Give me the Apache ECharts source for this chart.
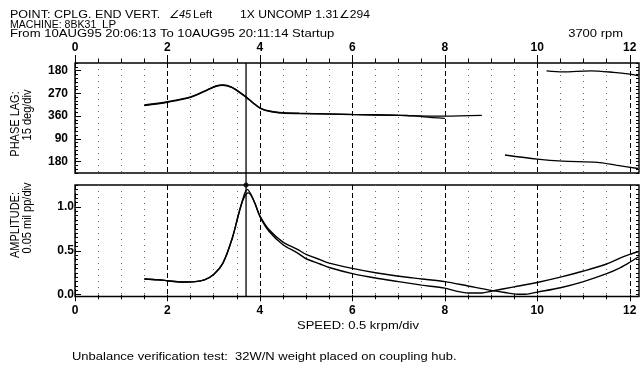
<!DOCTYPE html>
<html>
<head>
<meta charset="utf-8">
<script src="https://cdn.jsdelivr.net/npm/echarts@6/dist/echarts.min.js"></script>
<style>
  html, body { margin: 0; padding: 0; background: #fff; }
  #chart { width: 641px; height: 373px; }
</style>
</head>
<body>
<div id="chart"></div>
<script>
// ---------------- data ----------------
const speedTickValues = [0, 2, 4, 6, 8, 10, 12];
const speedTickLabels = ['0', '2', '4', '6', '8', '10', '12'];
const phaseTickValues = [180, 270, 360, 450, 540];
const phaseTickLabels = ['180', '270', '360', '90', '180'];
const ampTickValues = [0, 0.5, 1.0];
const ampTickLabels = ['0.0', '0.5', '1.0'];

const cursorSpeed = 3.7; // krpm

// Phase lag, trace A (null = gap)
const phaseSpeedA = [1.5, 2.0, 2.5, 2.85, 3.05, 3.2, 3.4, 3.55, 3.7, 3.85, 4.0, 4.2, 4.5, 4.85, 5.5, 6.0, 6.95, 7.4, 8.0, 8.8, null, 10.2, 10.55, 11.15, 11.65, 12.0, 12.18];
const phaseA      = [316, 303, 284, 257, 241, 237, 246, 264, 284, 307, 327, 340, 347, 349, 351, 353, 356, 359, 360, 357, null, 181, 185, 181, 187, 194, 200];
// Phase lag, trace B
const phaseSpeedB = [1.5, 2.0, 2.5, 2.85, 3.05, 3.2, 3.4, 3.55, 3.7, 3.85, 4.0, 4.2, 4.5, 4.85, 5.5, 6.0, 6.95, 7.35, 7.55, 8.0, null, 9.3, 10.0, 10.55, 11.3, 11.7, 12.18];
const phaseB      = [318, 305, 286, 258, 242, 238, 247, 265, 285, 308, 328, 341, 348, 350, 352, 354, 357, 359, 363, 369, null, 514, 530, 538, 543, 554, 567];

// Amplitude (mil pp), trace A
const ampSpeedA = [1.5, 1.8, 2.0, 2.3, 2.6, 2.8, 3.0, 3.2, 3.4, 3.55, 3.65, 3.72, 3.8, 3.9, 4.0, 4.2, 4.5, 4.8, 5.0, 5.3, 5.5, 6.0, 6.5, 7.0, 7.5, 8.0, 8.5, 9.0, 9.3, 9.6, 9.75, 10.0, 10.5, 11.0, 11.5, 11.8, 12.0, 12.18];
const ampA      = [0.18, 0.17, 0.16, 0.145, 0.15, 0.17, 0.23, 0.36, 0.64, 0.94, 1.12, 1.2, 1.15, 1.03, 0.9, 0.74, 0.6, 0.52, 0.46, 0.4, 0.36, 0.3, 0.25, 0.21, 0.18, 0.15, 0.1, 0.05, 0.025, 0.005, 0.005, 0.03, 0.08, 0.15, 0.24, 0.31, 0.37, 0.43];
// Amplitude, trace B
const ampSpeedB = [1.5, 1.8, 2.0, 2.3, 2.6, 2.8, 3.0, 3.2, 3.4, 3.55, 3.65, 3.75, 3.82, 3.9, 4.0, 4.2, 4.5, 4.8, 5.0, 5.3, 5.5, 6.0, 6.5, 7.0, 7.5, 8.0, 8.3, 8.5, 8.8, 9.0, 9.5, 10.0, 10.5, 11.0, 11.5, 11.8, 12.0, 12.18];
const ampB      = [0.18, 0.17, 0.16, 0.145, 0.15, 0.17, 0.23, 0.36, 0.64, 0.94, 1.1, 1.16, 1.12, 1.03, 0.89, 0.72, 0.57, 0.48, 0.41, 0.35, 0.31, 0.24, 0.19, 0.15, 0.11, 0.075, 0.035, 0.02, 0.02, 0.04, 0.09, 0.14, 0.2, 0.27, 0.35, 0.42, 0.46, 0.49];

// ---------------- axis ranges / minor ticks ----------------
const speedMin = 0, speedMax = 12.2;
const phaseMin = 150, phaseMax = 585;
const ampMin = -0.02, ampMax = 1.25;

const speedMinorTicks = [];
for (let i = 1; i <= 24; i++) if (i % 4 !== 0) speedMinorTicks.push(i * 0.5);
const phaseMinorTicks = [];
for (let v = 150; v <= 585; v += 15) phaseMinorTicks.push(v);
const ampMinorTicks = [];
for (let i = 0; i <= 25; i++) ampMinorTicks.push(Math.round(i * 5) / 100);

function pairs(xs, ys) {
  return xs.map((x, i) => (ys[i] == null ? ['-', '-'] : [x, ys[i]]));
}

const FONT = '"Liberation Sans", Arial, sans-serif';
const SX = 1.18;

function txt(text, x, y, opts) {
  opts = opts || {};
  return {
    type: 'text', x: x, y: y,
    rotation: opts.rotation || 0,
    scaleX: opts.scaleX != null ? opts.scaleX : SX,
    scaleY: opts.scaleY != null ? opts.scaleY : 1,
    z: 100,
    style: {
      text: text, fill: '#000',
      font: (opts.style || 'normal') + ' ' + (opts.weight || 'normal') + ' ' + (opts.size || 11) + 'px ' + FONT,
      textAlign: opts.align || 'left', align: opts.align || 'left',
      textVerticalAlign: 'middle', verticalAlign: 'middle'
    }
  };
}

const lab = { color: '#000', fontSize: 12, fontWeight: 'bold', fontFamily: FONT };
const blackTick = { color: '#000', width: 1 };

function speedAxes(gridIndex, position) {
  return [
    {
      gridIndex, type: 'value', position, min: speedMin, max: speedMax,
      axisLine: { show: false },
      axisTick: { show: true, customValues: speedTickValues, length: position === 'top' ? 8 : 6.5, lineStyle: blackTick },
      axisLabel: { show: true, customValues: speedTickValues, margin: position === 'top' ? 9 : 8, ...lab,
        formatter: v => speedTickLabels[speedTickValues.indexOf(v)] },
      splitLine: { show: true, lineStyle: { type: [5, 3], color: '#000', width: 1 } }
    },
    {
      gridIndex, type: 'value', position, min: speedMin, max: speedMax,
      axisLine: { show: false },
      axisTick: { show: true, customValues: speedMinorTicks, length: 4.5, lineStyle: blackTick },
      axisLabel: { show: false },
      splitLine: { show: true, lineStyle: { type: [1, 5], color: '#666', width: 1 } }
    }
  ];
}

function valueAxes(gridIndex, min, max, inverse, majors, labels, minors, margin) {
  return [
    {
      gridIndex, type: 'value', position: 'left', min, max, inverse,
      axisLine: { show: false },
      axisTick: { show: true, inside: true, customValues: majors, length: 6, lineStyle: blackTick },
      axisLabel: { show: true, customValues: majors, margin, ...lab,
        formatter: v => labels[majors.findIndex(m => Math.abs(m - v) < 1e-6)] },
      splitLine: { show: false }
    },
    {
      gridIndex, type: 'value', position: 'left', min, max, inverse,
      axisLine: { show: false },
      axisTick: { show: true, inside: true, customValues: minors, length: 3, lineStyle: blackTick },
      axisLabel: { show: false }, splitLine: { show: false }
    },
    {
      gridIndex, type: 'value', position: 'right', min, max, inverse,
      axisLine: { show: false },
      axisTick: { show: true, inside: true, customValues: minors, length: 3, lineStyle: blackTick },
      axisLabel: { show: false }, splitLine: { show: false }
    }
  ];
}

const traceStyle = { color: '#000', width: 1.4 };

const option = {
  animation: false,
  backgroundColor: '#fff',
  textStyle: { fontFamily: FONT },
  grid: [
    { left: 75, top: 63, width: 564, height: 110, show: true, borderColor: '#000', borderWidth: 1.4, backgroundColor: 'transparent' },
    { left: 75, top: 185, width: 564, height: 111.5, show: true, borderColor: '#000', borderWidth: 1.4, backgroundColor: 'transparent' },
    { left: 75, top: 63, width: 564, height: 233.5, show: false }
  ],
  xAxis: [
    ...speedAxes(0, 'top'),
    ...speedAxes(1, 'bottom'),
    { gridIndex: 2, type: 'value', show: false, min: speedMin, max: speedMax }
  ],
  yAxis: [
    ...valueAxes(0, phaseMin, phaseMax, true, phaseTickValues, phaseTickLabels, phaseMinorTicks, 7),
    ...valueAxes(1, ampMin, ampMax, false, ampTickValues, ampTickLabels, ampMinorTicks, 1),
    { gridIndex: 2, type: 'value', show: false, min: 0, max: 1 }
  ],
  series: [
    { type: 'line', xAxisIndex: 0, yAxisIndex: 0, data: pairs(phaseSpeedA, phaseA), symbol: 'none', smooth: 0.3, connectNulls: false, lineStyle: traceStyle },
    { type: 'line', xAxisIndex: 0, yAxisIndex: 0, data: pairs(phaseSpeedB, phaseB), symbol: 'none', smooth: 0.3, connectNulls: false, lineStyle: traceStyle },
    { type: 'line', xAxisIndex: 2, yAxisIndex: 3, data: pairs(ampSpeedA, ampA), symbol: 'none', smooth: 0.3, lineStyle: traceStyle },
    { type: 'line', xAxisIndex: 2, yAxisIndex: 3, data: pairs(ampSpeedB, ampB), symbol: 'none', smooth: 0.3, lineStyle: traceStyle },
    { type: 'line', xAxisIndex: 4, yAxisIndex: 6, data: [[cursorSpeed, 0], [cursorSpeed, 1]], symbol: 'none', lineStyle: { color: '#000', width: 1.3 }, z: 5 },
    { type: 'scatter', xAxisIndex: 2, yAxisIndex: 3, data: [[cursorSpeed, ampMax]], symbol: 'circle', symbolSize: 5, itemStyle: { color: '#000' }, clip: false, z: 6 }
  ],
  graphic: [
    txt('POINT: CPLG. END VERT.', 10, 15, { scaleX: 1.14 }),
    txt('∠45', 169, 15, { style: 'italic', scaleX: 1.0 }),
    txt('Left', 193, 15, { scaleX: 1.05 }),
    txt('1X UNCOMP 1.31∠294', 240, 15, { scaleX: 1.1 }),
    txt('MACHINE: 8BK31', 10, 24.5, { scaleX: 0.96, size: 11 }),
    txt('LP', 102, 24.5, { scaleX: 1.05 }),
    txt('From 10AUG95 20:06:13 To 10AUG95 20:11:14 Startup', 10, 33.5, { scaleX: 1.19 }),
    txt(Math.round(cursorSpeed * 1000) + ' rpm', 623, 34, { align: 'right' }),
    txt('PHASE LAG:', 15.5, 124, { rotation: Math.PI / 2, align: 'center', scaleX: 1, scaleY: SX }),
    txt('15 deg/div', 27.5, 115, { rotation: Math.PI / 2, align: 'center', scaleX: 1, scaleY: SX }),
    txt('AMPLITUDE:', 15.5, 225, { rotation: Math.PI / 2, align: 'center', scaleX: 1, scaleY: SX }),
    txt('0.05 mil pp/div', 27.5, 218, { rotation: Math.PI / 2, align: 'center', scaleX: 1, scaleY: SX }),
    txt('SPEED: 0.5 krpm/div', 297, 325.5),
    txt('Unbalance verification test:  32W/N weight placed on coupling hub.', 72, 356.5)
  ]
};

const chart = echarts.init(document.getElementById('chart'), null, { renderer: 'canvas' });
chart.setOption(option);
</script>
</body>
</html>
